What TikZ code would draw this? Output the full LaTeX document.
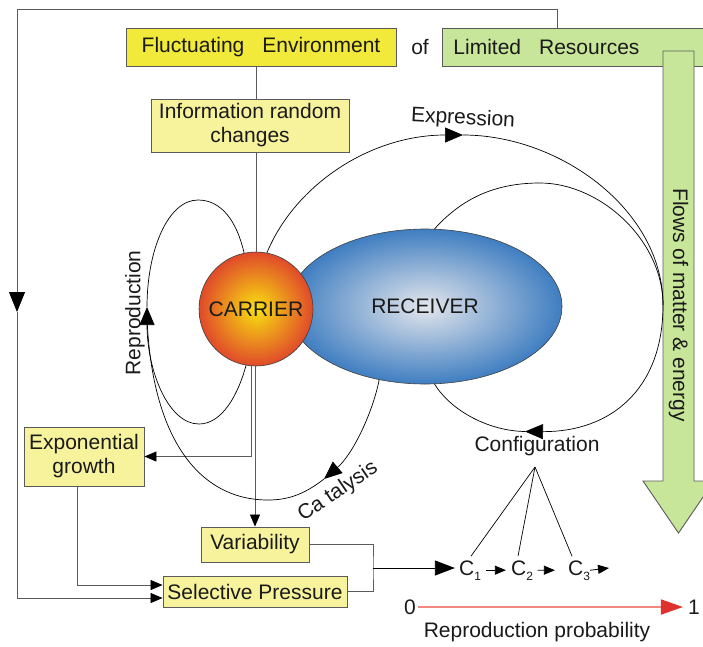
\documentclass[tikz,border=0pt]{standalone}
\usepackage{fontspec}
\setmainfont{Liberation Sans}
\usetikzlibrary{arrows.meta,shapes.geometric}
\newcommand\dfont{\fontsize{21}{24}\selectfont}
\newcommand\subfnt{\fontsize{12}{12}\selectfont}
\definecolor{yelA}{HTML}{F2EA3A}
\definecolor{yelB}{HTML}{F7F39C}
\definecolor{grn}{HTML}{C8E69A}
\definecolor{bdr}{HTML}{5A5A5A}
\definecolor{recE}{HTML}{3F7EC1}
\definecolor{recC}{HTML}{E4E6EC}
\definecolor{carC}{HTML}{F8E010}
\definecolor{carE}{HTML}{E04A2A}
\definecolor{redL}{HTML}{F08A7E}
\definecolor{redH}{HTML}{E0322C}
\definecolor{txt}{HTML}{1A1A1A}
\begin{document}
\begin{tikzpicture}[x=1pt,y=-1pt,
  every node/.style={font=\dfont, inner sep=0pt, text=txt},
  box/.style={draw=bdr, line width=0.9pt, fill=yelB, align=center},
  curve/.style={line width=0.7pt, draw=black},
  conn/.style={line width=0.8pt, draw=bdr},
  bigtip/.style={-{Triangle[length=18pt,width=15pt]}},
  lefttip/.style={-{Triangle[length=20pt,width=16pt,color=black]}},
  ctiparrow/.style={-{Triangle[length=20pt,width=15pt]}},
  smalltip/.style={-{Triangle[length=12pt,width=10pt,color=black]}},
  tinytip/.style={-{Triangle[length=11pt,width=9pt]}},
  ctxt/.style={anchor=base}
]
\useasboundingbox (0,0) rectangle (703,646);

% top boxes
\node[box, fill=yelA, minimum width=270pt, minimum height=38pt] (fluct) at (261,47) {Fluctuating\hspace{18pt}Environment};
\node (of) at (420,47) {of};
\node[box, fill=grn, anchor=west, minimum height=38pt, text width=262pt, inner xsep=11pt, align=left] (lr) at (442,47) {Limited\hspace{18pt}Resources};

% green flow arrow
\draw[draw=bdr, line width=0.9pt, fill=grn] (663,51) -- (694,51) -- (694,481) -- (714,481) -- (678.5,533) -- (643,481) -- (663,481) -- cycle;
\node[rotate=-90] (flows) at (678.5,305) {Flows of matter \& energy};

% info box
\node[box, minimum width=198pt, minimum height=53pt] (info) at (250,125.5) {Information random\\changes};

% receiver and carrier
\node[ellipse, draw=black!75, line width=0.6pt, inner color=recC, outer color=recE, minimum width=274pt, minimum height=155pt] (rec) at (425,306.5) {RECEIVER\hspace{36pt}};
\node[circle, draw=black!75, line width=0.6pt, inner color=carC, outer color=carE, minimum size=114pt] (car) at (256,309) {CARRIER};

% lower boxes
\node[box, minimum width=120pt, minimum height=59pt] (expg) at (84,456.5) {Exponential\\growth};
\node[box, minimum width=108pt, minimum height=35pt] (var) at (255,544.5) {Variability};
\node[box, minimum width=184pt, minimum height=31pt] (sp) at (255,591.5) {Selective Pressure};

% curve labels
\node[rotate=-3] (expl) at (463,119) {Expression};
\node (confl) at (537,446) {Configuration};
\node[rotate=90] (repl) at (135,313) {Reproduction};
\node[rotate=34] (catl) at (338,492) {Ca talysis};

% C nodes
\node[ctxt] (c1) at (470,575) {C\raisebox{-5pt}{\subfnt 1}};
\node[ctxt] (c2) at (522,575) {C\raisebox{-5pt}{\subfnt 2}};
\node[ctxt] (c3) at (579,575) {C\raisebox{-5pt}{\subfnt 3}};

% probability scale
\node (zero) at (410,607) {0};
\node (one) at (694,607) {1};
\node (rp) at (537,632) {Reproduction probability};

% coordinates
\coordinate (etop) at (463,135);
\coordinate (rgt) at (663,305);
\coordinate (cfg) at (525,431.5);
\coordinate (cat) at (324,479);
\coordinate (rep) at (147,307);
\coordinate (apex) at (535,467);
\coordinate (jn) at (373,568);
\coordinate (tr) at (557,9);
\coordinate (tl) at (17,9);
\coordinate (lm) at (17,312);
\coordinate (c3end) at (609,568);

% box connectors
\draw[conn] (fluct.south -| car.north) -- (info.north -| car.north);
\draw[conn] (info.south -| car.north) -- (car.north);
\draw[conn, smalltip] ([xshift=-5pt]car.south) |- (expg.east);
\draw[conn, smalltip] (car.south -| var.north) -- (var.north);
\draw[conn, smalltip] ([xshift=-7pt]expg.south) |- ([yshift=6.5pt]sp.west);
\draw[conn, lefttip] (lr.north -| tr) -- (tr) -- (tl) -- (lm);
\draw[conn, smalltip] (lm) |- ([yshift=-6.5pt]sp.west);
\draw[conn] (var.east) -| (jn) |- (sp.east);
\draw[line width=0.8pt, ctiparrow, shorten >=4pt] (jn) -- (jn -| c1.west);

% C chain
\draw[line width=0.8pt, tinytip] ([xshift=4.5pt]c1.east) -- ([xshift=-5pt]c2.west);
\draw[line width=0.8pt, tinytip] ([xshift=4.5pt]c2.east) -- ([xshift=-13pt]c3.west);
\draw[line width=0.8pt, tinytip] (c3.east) -- (c3end);
\draw[curve] (apex) -- ([xshift=1pt,yshift=4pt]c1.north);
\draw[curve] (apex) -- ([xshift=-4pt,yshift=4pt]c2.north);
\draw[curve] (apex) -- ([xshift=-7pt,yshift=4pt]c3.north);

% probability arrow
\draw[redL, line width=1.8pt, -{Triangle[length=22pt,width=15pt,color=redH]}] ([xshift=2pt]zero.east) -- ([xshift=-5pt]one.west);

% expression
\draw[curve, bigtip] (car.79) .. controls (295,185) and (370,135) .. (etop);
\draw[curve] (etop) .. controls (560,135) and (663,210) .. (rgt);
% right loop
\draw[curve] (rec.83) .. controls (465,195) and (500,183) .. (540,183) .. controls (600,183) and (663,240) .. (rgt);
\draw[curve, bigtip] (rgt) .. controls (663,390) and (610,432) .. (cfg);
\draw[curve] (cfg) .. controls (490,431) and (452,412) .. (rec.-83);
% catalysis
\draw[curve, bigtip] (rec.238) .. controls (372,415) and (352,455) .. (cat);
\draw[curve] (cat) .. controls (306,493) and (290,500) .. (268,500) .. controls (200,500) and (152,440) .. (147,318);
% reproduction
\draw[curve, bigtip] (car.260) .. controls (238,395) and (222,424) .. (199,424) .. controls (168,424) and (147,370) .. (rep);
\draw[curve] (rep) .. controls (147,250) and (168,200) .. (198,200) .. controls (222,200) and (237,222) .. (car.102);
\end{tikzpicture}
\end{document}
